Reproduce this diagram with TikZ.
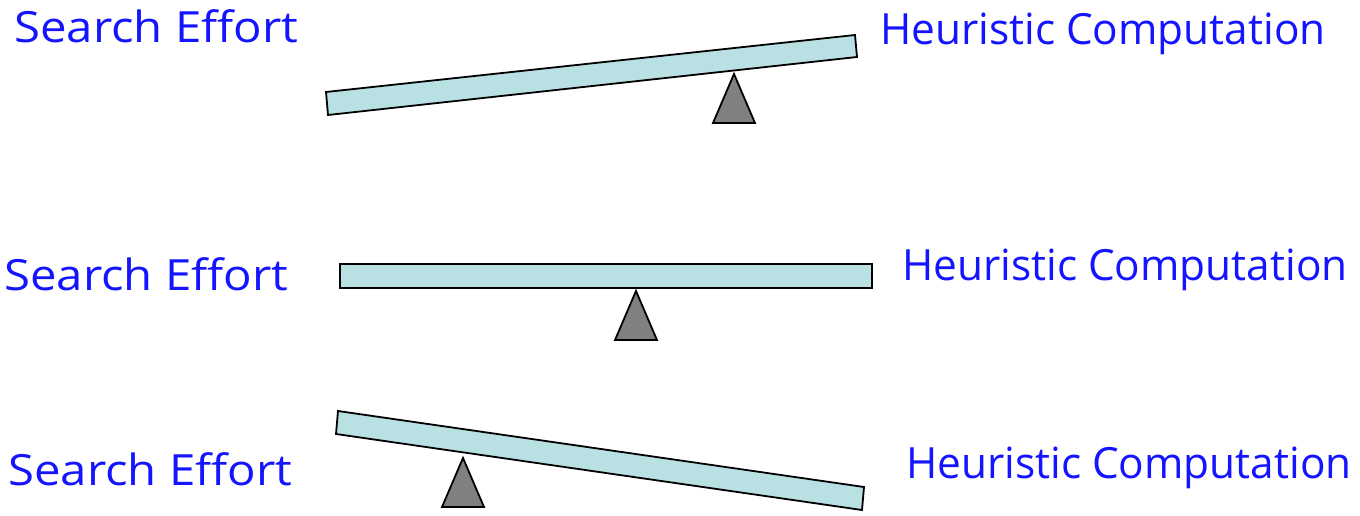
\documentclass[tikz,border=0pt]{standalone}
\usepackage{fontspec}
\setmainfont{Open Sans}
\newfontfamily\sefont[FakeStretch=1.10]{Open Sans}
\newfontfamily\hcfont[FakeStretch=0.985]{Open Sans}
\definecolor{barfill}{HTML}{B9E0E3}
\definecolor{fulcrum}{HTML}{808080}
\definecolor{lbl}{HTML}{1414FF}
\begin{document}
\begin{tikzpicture}[x=1pt,y=-1pt,
  lab/.style={anchor=base west,inner sep=0pt,text=lbl},
  selab/.style={lab,font=\sefont\fontsize{43}{48}\selectfont},
  hclab/.style={lab,font=\hcfont\fontsize{43}{48}\selectfont},
  beam/.style={draw=black,fill=barfill,line width=1.8pt,line join=miter},
  pivot/.style={draw=black,fill=fulcrum,line width=1.8pt,line join=miter}]
\useasboundingbox (0,0) rectangle (1360,516);
% row 1
\node[selab] (s1) at (14,43) {Search Effort};
\node[hclab] (h1) at (880,45) {Heuristic Computation};
\draw[beam] (326,92) -- (855,35) -- (857,57) -- (328,115) -- cycle;
\draw[pivot] (734,74) -- (755,123) -- (713,123) -- cycle;
% row 2
\node[selab] (s2) at (4,290) {Search Effort};
\node[hclab] (h2) at (902,280) {Heuristic Computation};
\draw[beam] (340,264) rectangle (872,288);
\draw[pivot] (636,291) -- (657,340) -- (615,340) -- cycle;
% row 3
\node[selab] (s3) at (8,485) {Search Effort};
\node[hclab] (h3) at (906,478) {Heuristic Computation};
\draw[beam] (338,411) -- (864,487) -- (862,510) -- (336,434) -- cycle;
\draw[pivot] (463,458) -- (484,507) -- (442,507) -- cycle;
\end{tikzpicture}
\end{document}
